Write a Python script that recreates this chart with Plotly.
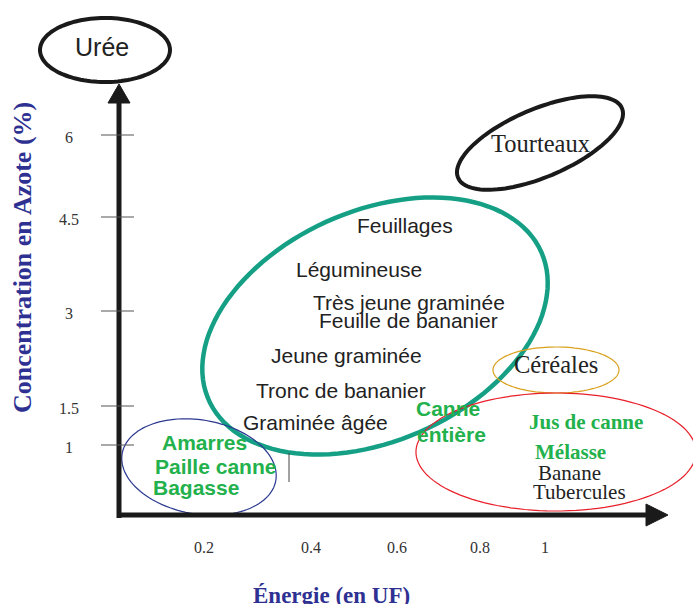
import numpy as np
import plotly.graph_objects as go

# schematic frame: 693 x 604 units, y measured downward
W, H = 693, 604

y_tick_labels = ["6", "4.5", "3", "1.5", "1"]
y_tick_pos = [135, 217, 311, 406, 445]
x_tick_labels = ["0.2", "0.4", "0.6", "0.8", "1"]
x_tick_pos = [204, 311, 397, 480, 545]

forage_items = ["Feuillages", "Légumineuse", "Très jeune graminée", "Feuille de bananier",
                "Jeune graminée", "Tronc de bananier", "Graminée âgée"]
forage_x = [405, 359, 409, 408, 346, 341, 315]
forage_y = [225, 269, 302, 320, 355, 390, 422]

canne_items = ["Canne", "entière"]
canne_x = [448, 451]
canne_y = [408, 434]

residue_items = ["Amarres", "Paille canne", "Bagasse"]
residue_x = [204, 215, 196]
residue_y = [442, 466, 487]

sugar_items = ["Jus de canne", "Mélasse"]
sugar_x = [586, 570]
sugar_y = [422, 452]

starch_items = ["Banane", "Tubercules"]
starch_x = [569, 579]
starch_y = [473, 492]

# groups: name, centre, semi-axes, tilt (deg)
group_names = ["Urée", "Tourteaux", "Fourrages", "Céréales", "Sucres", "Résidus"]
group_cx = [105, 540, 375, 556, 556, 199]
group_cy = [50, 143, 326, 370, 452, 467]
group_a = [65, 89, 182, 63, 140, 78]
group_b = [32, 34, 115, 23, 59, 47]
group_tilt = [0, 23, 24, 0, 0, -10]
group_color = ["#1a1a1a", "#1a1a1a", "#15a085", "#d9a11e", "#e8202a", "#2b3990"]
group_width = [4, 4, 4.5, 1.2, 1.2, 1.2]

AXIS_BLUE = "#2e3192"
GREEN = "#22b14c"
SANS = "Liberation Sans, Arial, sans-serif"
SERIF = "Liberation Serif, Times New Roman, serif"


def ellipse_path(cx, cy, a, b, tilt, n=120):
    t = np.linspace(0, 2 * np.pi, n)
    th = np.radians(tilt)
    x = cx + a * np.cos(t) * np.cos(th) - b * np.sin(t) * np.sin(th)
    y = cy - (a * np.cos(t) * np.sin(th) + b * np.sin(t) * np.cos(th))
    pts = [f"{xi:.1f},{yi:.1f}" for xi, yi in zip(x, y)]
    return "M " + " L ".join(pts) + " Z"


fig = go.Figure()
shapes = []
annotations = []

# ellipses
for i in range(len(group_names)):
    shapes.append(dict(type="path",
                       path=ellipse_path(group_cx[i], group_cy[i], group_a[i], group_b[i], group_tilt[i]),
                       line=dict(color=group_color[i], width=group_width[i])))

# axes
shapes.append(dict(type="line", x0=119, y0=518, x1=119, y1=100, line=dict(color="#1a1a1a", width=5)))
shapes.append(dict(type="line", x0=117, y0=515, x1=648, y1=515, line=dict(color="#1a1a1a", width=5)))
shapes.append(dict(type="path", path="M 119,84 L 108,103 L 130,103 Z",
                   fillcolor="#1a1a1a", line=dict(color="#1a1a1a", width=1)))
shapes.append(dict(type="path", path="M 668,515 L 646,504 L 646,526 Z",
                   fillcolor="#1a1a1a", line=dict(color="#1a1a1a", width=1)))

# stray mark
shapes.append(dict(type="line", x0=289, y0=453, x1=289, y1=482, line=dict(color="#444", width=1)))

# y ticks
for lab, yp in zip(y_tick_labels, y_tick_pos):
    shapes.append(dict(type="line", x0=101, y0=yp, x1=134, y1=yp, line=dict(color="#555", width=1.2)))
    annotations.append(dict(x=69, y=yp + 2, text=lab, showarrow=False,
                            font=dict(family=SERIF, size=16, color="#333")))

for lab, xp in zip(x_tick_labels, x_tick_pos):
    annotations.append(dict(x=xp, y=547, text=lab, showarrow=False,
                            font=dict(family=SERIF, size=16, color="#333")))


def add_texts(names, xs, ys, family, size, color, bold=False):
    for n, x, y in zip(names, xs, ys):
        annotations.append(dict(x=x, y=y, text=f"<b>{n}</b>" if bold else n, showarrow=False,
                                font=dict(family=family, size=size, color=color)))


add_texts(["Urée"], [102], [47], SANS, 25, "#222")
add_texts(["Tourteaux"], [540], [143], SERIF, 24.5, "#222")
add_texts(["Céréales"], [556], [364], SERIF, 24.5, "#222")
add_texts(forage_items, forage_x, forage_y, SANS, 21, "#222")
add_texts(canne_items, canne_x, canne_y, SANS, 21, GREEN, bold=True)
add_texts(residue_items, residue_x, residue_y, SANS, 21, GREEN, bold=True)
add_texts(sugar_items, sugar_x, sugar_y, SERIF, 21, GREEN, bold=True)
add_texts(starch_items, starch_x, starch_y, SERIF, 21, "#222")

# axis titles
annotations.append(dict(x=22, y=258, text="<b>Concentration en Azote (%)</b>", showarrow=False,
                        textangle=-90, font=dict(family=SERIF, size=26, color=AXIS_BLUE)))
annotations.append(dict(x=331, y=595, text="<b>Énergie (en UF)</b>", showarrow=False,
                        font=dict(family=SERIF, size=23, color=AXIS_BLUE)))

fig.update_layout(
    width=W, height=H,
    margin=dict(l=0, r=0, t=0, b=0),
    paper_bgcolor="white", plot_bgcolor="white",
    shapes=shapes, annotations=annotations,
    showlegend=False,
)
fig.update_xaxes(range=[0, W], visible=False, fixedrange=True)
fig.update_yaxes(range=[H, 0], visible=False, fixedrange=True)

fig.write_html("out.html", config={"displayModeBar": False},
               post_script="document.body.style.margin='0';document.body.style.overflow='hidden';")
